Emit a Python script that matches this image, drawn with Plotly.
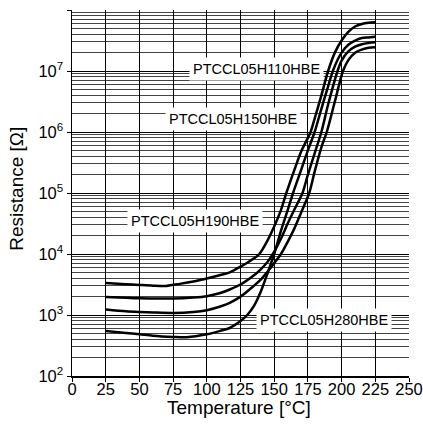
import plotly.graph_objects as go

# Temperature [°C] and resistance [Ω]
t_110 = [25, 40, 50, 60, 70, 80, 90, 100, 110, 117, 125, 130, 135, 139, 145, 150, 155, 159, 165, 170, 177, 180, 185, 190, 195, 200, 205, 210, 215, 220, 225]
r_110 = [3.36e3, 3.2e3, 3.11e3, 3.03e3, 3.0e3, 3.24e3, 3.55e3, 3.98e3, 4.52e3, 5.0e3, 6.2e3, 7.2e3, 8.5e3, 1.0e4, 1.66e4, 2.82e4, 5.25e4, 1.0e5, 2.4e5, 4.79e5, 1.0e6, 1.66e6, 3.98e6, 1.0e7, 2.0e7, 3.16e7, 4.37e7, 5.37e7, 5.89e7, 6.17e7, 6.31e7]

t_150 = [25, 40, 50, 60, 75, 90, 100, 110, 117, 125, 130, 135, 140, 145, 149, 155, 160, 165, 171, 175, 180, 185, 190, 197, 200, 205, 210, 215, 220, 225]
r_150 = [1.98e3, 1.92e3, 1.88e3, 1.87e3, 1.86e3, 1.93e3, 2.03e3, 2.29e3, 2.62e3, 3.16e3, 3.72e3, 4.47e3, 5.62e3, 7.41e3, 1.0e4, 1.78e4, 3.16e4, 5.37e4, 1.0e5, 2.0e5, 4.47e5, 1.0e6, 2.82e6, 1.0e7, 1.48e7, 2.09e7, 2.51e7, 2.75e7, 2.88e7, 2.95e7]

t_190 = [25, 40, 50, 60, 75, 90, 100, 110, 117, 125, 135, 140, 145, 150, 155, 160, 165, 170, 176, 180, 185, 189, 195, 201, 205, 210, 215, 220, 225]
r_190 = [1.23e3, 1.15e3, 1.12e3, 1.10e3, 1.08e3, 1.12e3, 1.20e3, 1.38e3, 1.58e3, 2.0e3, 3.02e3, 3.8e3, 5.13e3, 7.08e3, 1.0e4, 1.58e4, 2.63e4, 4.79e4, 1.0e5, 2.24e5, 5.62e5, 1.0e6, 3.16e6, 1.0e7, 1.51e7, 2.0e7, 2.24e7, 2.4e7, 2.45e7]

t_280 = [25, 40, 50, 60, 75, 85, 100, 110, 117, 125, 130, 135, 140, 145, 150, 155, 160, 164, 170, 175, 180, 185, 190, 194, 200, 205, 210, 215, 220, 225]
r_280 = [547, 507, 483, 457, 437, 432, 483, 550, 612, 794, 1.0e3, 1.41e3, 2.4e3, 4.79e3, 1.0e4, 2.4e4, 5.25e4, 1.0e5, 2.4e5, 5.01e5, 1.0e6, 2.4e6, 5.62e6, 1.07e7, 2.0e7, 2.69e7, 3.16e7, 3.47e7, 3.55e7, 3.63e7]

x_ticks = [0, 25, 50, 75, 100, 125, 150, 175, 200, 225, 250]
y_exponents = [2, 3, 4, 5, 6, 7, 8]

labels = ["PTCCL05H110HBE", "PTCCL05H150HBE", "PTCCL05H190HBE", "PTCCL05H280HBE"]
label_x = [136.5, 119.4, 91.2, 187.0]
label_logy = [7.03, 6.21, 4.54, 2.91]

x_title = "Temperature [°C]"
y_title = "Resistance [Ω]"

FONT = "Liberation Sans, Arial, Helvetica, sans-serif"

fig = go.Figure()
for t, r in [(t_110, r_110), (t_150, r_150), (t_190, r_190), (t_280, r_280)]:
    fig.add_trace(go.Scatter(x=t, y=r, mode="lines",
                             line=dict(color="black", width=2.5, shape="spline", smoothing=0.8),
                             showlegend=False, hoverinfo="skip"))

minor_vals = [m * 10 ** e for e in y_exponents[:-1] for m in range(2, 10)]

for txt, lx, ly in zip(labels, label_x, label_logy):
    fig.add_annotation(x=lx, y=ly, xref="x", yref="y", text=txt, showarrow=False,
                       font=dict(family=FONT, size=14.5, color="black"),
                       bgcolor="white", borderpad=3)

# axis titles
fig.add_annotation(x=0.497, y=-0.087, xref="paper", yref="paper", text=x_title,
                   showarrow=False, xanchor="center", yanchor="middle",
                   font=dict(family=FONT, size=19, color="black"))
fig.add_annotation(x=-0.163, y=0.512, xref="paper", yref="paper", text=y_title,
                   showarrow=False, xanchor="center", yanchor="middle", textangle=-90,
                   font=dict(family=FONT, size=19, color="black"))

fig.update_layout(
    width=423, height=424,
    margin=dict(l=72, r=14, t=10, b=48),
    paper_bgcolor="white", plot_bgcolor="white",
    font=dict(family=FONT, color="black"),
    hovermode=False,
    xaxis=dict(range=[0, 250], tickvals=x_ticks, ticktext=[str(v) for v in x_ticks],
               automargin=False, fixedrange=True,
               showgrid=True, gridcolor="black", gridwidth=1, zeroline=False,
               showline=True, linecolor="black", linewidth=1.5,
               ticks="outside", ticklen=4, tickcolor="black", ticklabelstandoff=-6,
               ticklabeloverflow="allow",
               tickfont=dict(size=16.5)),
    yaxis=dict(type="log", range=[2, 8], tickvals=[10 ** e for e in y_exponents],
               ticktext=["10<sup>%d</sup>" % e for e in y_exponents],
               automargin=False, fixedrange=True,
               showgrid=True, gridcolor="black", gridwidth=1, zeroline=False,
               showline=True, linecolor="black", linewidth=1.5,
               ticks="outside", ticklen=4, tickcolor="black",
               tickfont=dict(size=16.5),
               minor=dict(tickvals=minor_vals, showgrid=True, gridcolor="#444", gridwidth=1, ticks="")),
)

fig.write_html("out.html", config={"displayModeBar": False, "staticPlot": True},
               post_script="document.body.style.margin='0';document.body.style.overflow='hidden';")
